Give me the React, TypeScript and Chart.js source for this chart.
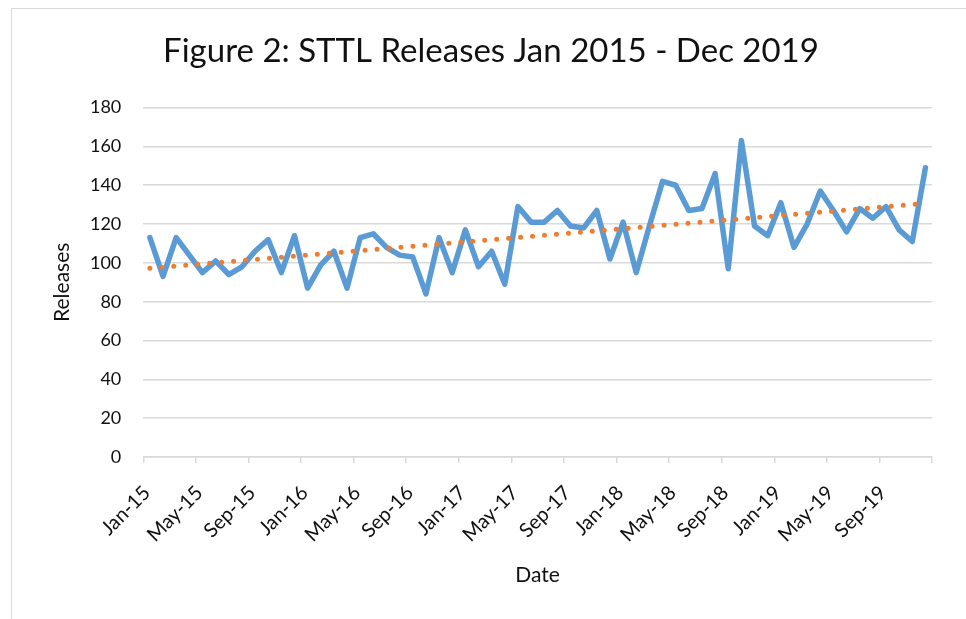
import React, { useEffect, useRef } from "react";
import { Chart, registerables } from "chart.js";

Chart.register(...registerables);

const monthNames = ["Jan", "Feb", "Mar", "Apr", "May", "Jun", "Jul", "Aug", "Sep", "Oct", "Nov", "Dec"];
const years = ["15", "16", "17", "18", "19"];
const categories: string[] = years.flatMap((y) => monthNames.map((m) => `${m}-${y}`));

const releases = [
  113, 93, 113, 104, 95, 101, 94, 98, 106, 112,
  95, 114, 87, 99, 106, 87, 113, 115, 108, 104,
  103, 84, 113, 95, 117, 98, 106, 89, 129, 121,
  121, 127, 119, 118, 127, 102, 121, 95, 119, 142,
  140, 127, 128, 146, 97, 163, 119, 114, 131, 108,
  120, 137, 127, 116, 128, 123, 129, 117, 111, 149,
];

const yTicks = [0, 20, 40, 60, 80, 100, 120, 140, 160, 180];

function linearTrend(values: number[]): number[] {
  const n = values.length;
  const mx = (n - 1) / 2;
  const my = values.reduce((a, b) => a + b, 0) / n;
  let sxy = 0;
  let sxx = 0;
  values.forEach((v, i) => {
    sxy += (i - mx) * (v - my);
    sxx += (i - mx) * (i - mx);
  });
  const slope = sxy / sxx;
  return values.map((_, i) => my + slope * (i - mx));
}

const FONT = "Lato, 'Open Sans', sans-serif";
const GRID = "#d9d9d9";
const TEXT = "#111111";

export default function App() {
  const ref = useRef<HTMLCanvasElement | null>(null);

  useEffect(() => {
    if (!ref.current) return;
    const trend = linearTrend(releases);
    const chart = new Chart(ref.current, {
      type: "line",
      data: {
        labels: categories,
        datasets: [
          {
            label: "Linear (Releases)",
            data: trend,
            borderColor: "#ED7D31",
            borderWidth: 5,
            borderDash: [0, 12],
            borderCapStyle: "round",
            pointRadius: 0,
            fill: false,
            tension: 0,
          },
          {
            label: "Releases",
            data: releases,
            borderColor: "#5B9BD5",
            borderWidth: 5.5,
            borderJoinStyle: "round",
            borderCapStyle: "round",
            pointRadius: 0,
            fill: false,
            tension: 0,
          },
        ],
      },
      options: {
        responsive: false,
        animation: false,
        events: [],
        layout: { padding: { left: 50, right: 34, top: 0, bottom: 0 } },
        plugins: {
          legend: { display: false },
          tooltip: { enabled: false },
          title: {
            display: true,
            text: "Figure 2: STTL Releases Jan 2015 - Dec 2019",
            color: TEXT,
            font: { family: FONT, size: 33, weight: "normal" },
            padding: { top: 32, bottom: 36 },
          },
        },
        scales: {
          x: {
            type: "category",
            offset: true,
            grid: {
              offset: true,
              drawOnChartArea: false,
              drawTicks: true,
              tickLength: 6,
              lineWidth: 1.5,
              color: (ctx: any) =>
                ctx.index === undefined || ctx.index % 4 === 0 ? GRID : "rgba(0,0,0,0)",
            },
            border: { display: true, color: GRID, width: 1.5 },
            ticks: {
              autoSkip: false,
              minRotation: 45,
              maxRotation: 45,
              labelOffset: -3,
              padding: 18,
              color: TEXT,
              font: { family: FONT, size: 20 },
              callback: (_v: any, i: number) => (i % 4 === 0 ? categories[i] : ""),
            },
            title: {
              display: true,
              text: "Date",
              color: TEXT,
              font: { family: FONT, size: 21 },
              padding: { top: 0, bottom: 31 },
            },
            afterFit: (s: any) => {
              s.height = 162;
            },
          },
          y: {
            min: 0,
            max: 180,
            afterBuildTicks: (s: any) => {
              s.ticks = yTicks.map((v) => ({ value: v }));
            },
            grid: { color: GRID, lineWidth: 1.5, drawTicks: false },
            border: { display: false },
            ticks: {
              padding: 22,
              color: TEXT,
              font: { family: FONT, size: 18 },
            },
            title: {
              display: true,
              text: "Releases",
              color: TEXT,
              font: { family: FONT, size: 21 },
              padding: { top: 0, bottom: 0 },
            },
            afterFit: (s: any) => {
              s.width = 93.3;
            },
          },
        },
      },
    });
    return () => chart.destroy();
  }, []);

  return (
    <div style={{ position: "absolute", left: 0, top: 0, width: 966, height: 619, overflow: "hidden", background: "#fff" }}>
      <div
        style={{
          position: "absolute",
          left: 11,
          top: 8,
          width: 2000,
          height: 2000,
          borderLeft: `1px solid ${GRID}`,
          borderTop: `1px solid ${GRID}`,
        }}
      />
      <canvas ref={ref} width={966} height={619} style={{ position: "absolute", left: 0, top: 0, display: "block" }} />
    </div>
  );
}
